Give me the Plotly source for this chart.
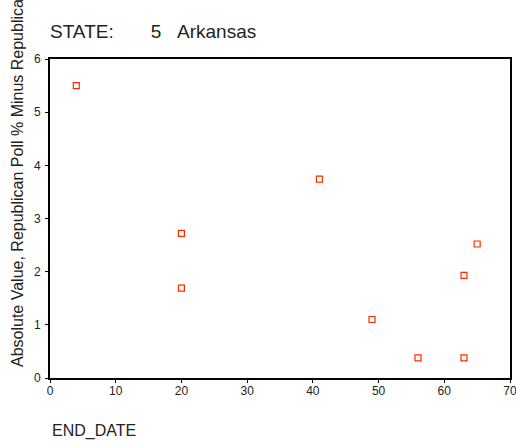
import plotly.graph_objects as go

# Data
end_date = [4, 20, 20, 41, 49, 56, 63, 63, 65]
abs_diff = [5.50, 2.72, 1.69, 3.74, 1.10, 0.38, 0.38, 1.93, 2.52]

x_ticks = [0, 10, 20, 30, 40, 50, 60, 70]
y_ticks = [0, 1, 2, 3, 4, 5, 6]

NB = "\u00a0"
title_text = "STATE:" + NB * 7 + "5" + NB * 3 + "Arkansas"
y_title = "Absolute Value, Republican Poll % Minus Republican Vote %"
x_title = "END_DATE"

FONT = "Liberation Sans, Arial, sans-serif"

fig = go.Figure()
fig.add_trace(go.Scatter(
    x=end_date, y=abs_diff, mode="markers",
    marker=dict(symbol="square-open", size=6, color="#ff2a00",
                line=dict(width=1.2, color="#ff2a00")),
    showlegend=False, cliponaxis=False,
))

axis_common = dict(
    showgrid=False, zeroline=False, showline=True, linecolor="black",
    linewidth=1.6, mirror=True, ticks="outside", ticklen=3, automargin=False,
    ticklabeloverflow="allow",
    tickcolor="black", tickfont=dict(family=FONT, size=12, color="#222"),
)

fig.update_layout(
    width=516, height=445,
    margin=dict(l=50, r=6, t=59, b=67),
    paper_bgcolor="white", plot_bgcolor="white",
    font=dict(family=FONT, color="#222"),
    xaxis=dict(range=[0, 70], tickvals=x_ticks, ticklabelstandoff=-2, **axis_common),
    yaxis=dict(range=[0, 6], tickvals=y_ticks, ticklabelstandoff=2, **axis_common),
    annotations=[
        dict(text=title_text, xref="paper", yref="paper", x=0, y=1,
             xanchor="left", yanchor="bottom", xshift=-2, yshift=15, showarrow=False,
             font=dict(family=FONT, size=19, color="#222")),
        dict(text=y_title, xref="paper", yref="paper", x=0, y=0,
             xanchor="center", yanchor="bottom", xshift=-33, yshift=9,
             textangle=-90, showarrow=False,
             font=dict(family=FONT, size=16, color="#222")),
        dict(text=x_title, xref="paper", yref="paper", x=0, y=0,
             xanchor="left", yanchor="top", yshift=-42, showarrow=False,
             font=dict(family=FONT, size=16, color="#222")),
    ],
)

fig.write_html("out.html", config={"displayModeBar": False},
               post_script="document.body.style.margin='0';")
